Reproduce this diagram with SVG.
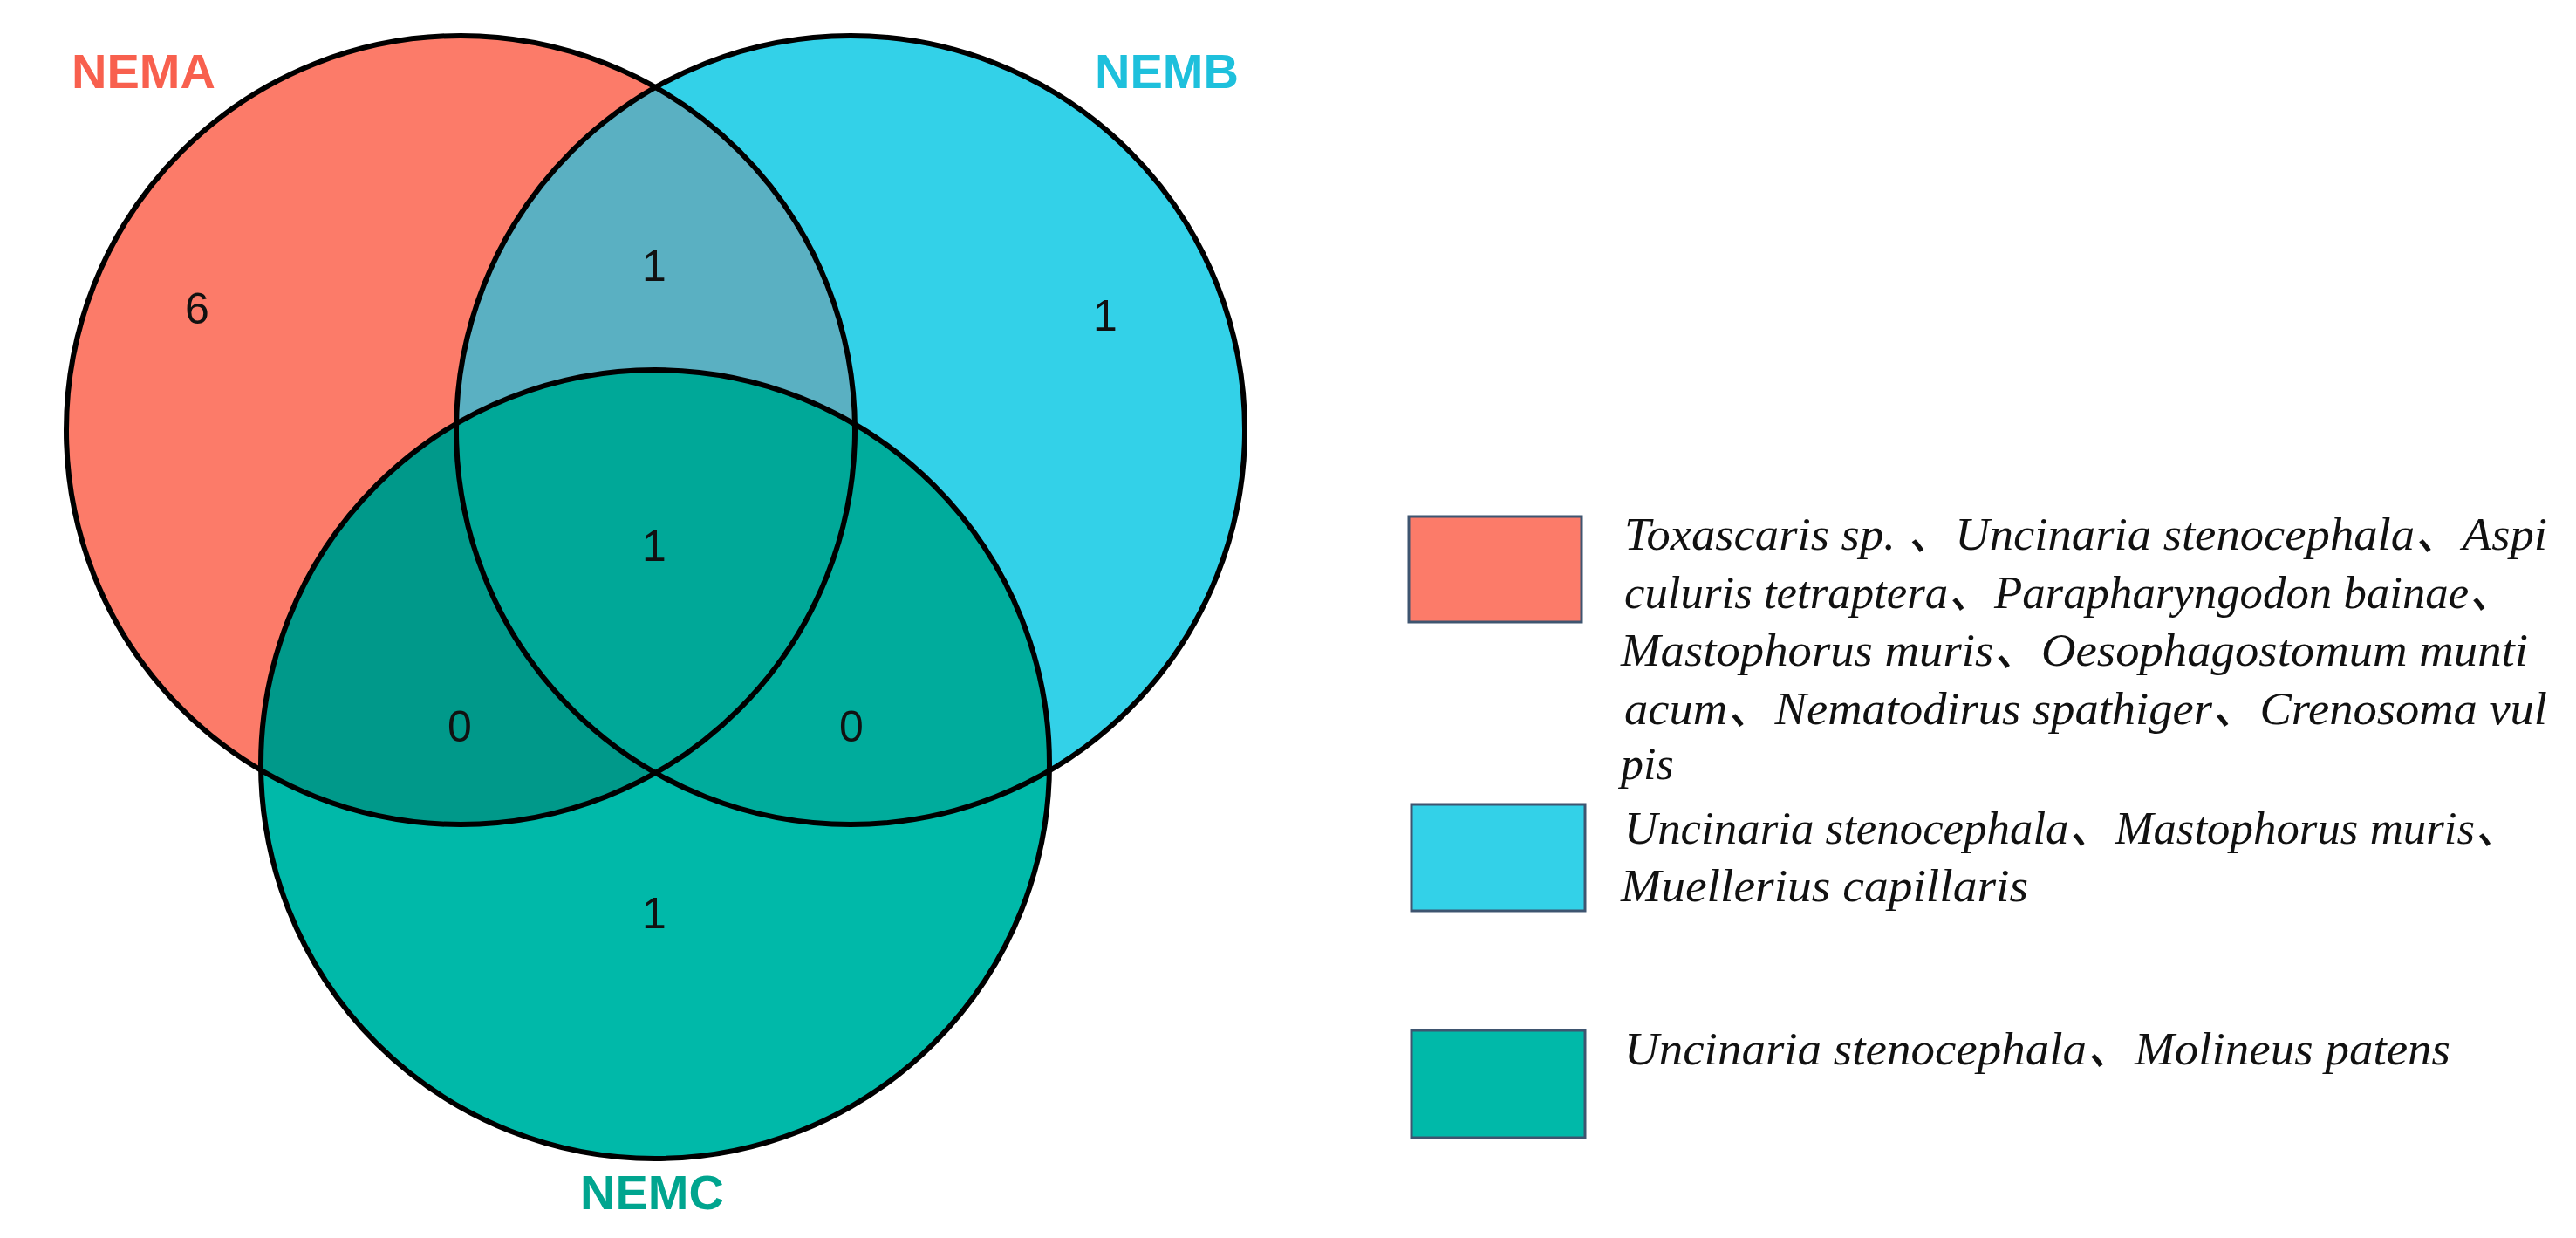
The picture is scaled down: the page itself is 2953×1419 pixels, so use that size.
<svg xmlns="http://www.w3.org/2000/svg" width="2953" height="1419" viewBox="0 0 2953 1419">
<style>
.num{font-family:"Liberation Sans",Arial,sans-serif;font-size:50px;fill:#111;text-anchor:middle}
.lab{font-family:"Liberation Sans",Arial,sans-serif;font-size:56px;font-weight:bold}
.leg{font-family:"Liberation Serif","Noto Sans CJK SC",serif;font-style:italic;font-size:52px;fill:#111}
.ring{fill:none;stroke:#000;stroke-width:6}
.sw{stroke:#3E5570;stroke-width:3}
</style>
<defs>
<clipPath id="cA"><circle cx="528" cy="493" r="452"/></clipPath>
<clipPath id="cB"><circle cx="975" cy="493" r="452"/></clipPath>
<clipPath id="cC"><circle cx="751" cy="876" r="452"/></clipPath>
</defs>
<rect width="2953" height="1419" fill="#fff"/>
<g id="regions">
<circle cx="528" cy="493" r="452" fill="#FC7B69"/>
<circle cx="975" cy="493" r="452" fill="#33D1E8"/>
<circle cx="751" cy="876" r="452" fill="#00B9A9"/>
<g clip-path="url(#cA)"><circle cx="975" cy="493" r="452" fill="#5AB0C2"/><circle cx="751" cy="876" r="452" fill="#00998A"/></g>
<g clip-path="url(#cB)"><circle cx="751" cy="876" r="452" fill="#00AC9C"/></g>
<g clip-path="url(#cA)"><g clip-path="url(#cB)"><circle cx="751" cy="876" r="452" fill="#00A898"/></g></g>
</g>
<g id="outlines">
<circle class="ring" cx="528" cy="493" r="452"/>
<circle class="ring" cx="975" cy="493" r="452"/>
<circle class="ring" cx="751" cy="876" r="452"/>
</g>
<g id="counts">
<text class="num" x="226" y="371">6</text>
<text class="num" x="750" y="322">1</text>
<text class="num" x="1267" y="379">1</text>
<text class="num" x="750" y="643">1</text>
<text class="num" x="527" y="850">0</text>
<text class="num" x="976" y="850">0</text>
<text class="num" x="750" y="1064">1</text>
</g>
<g id="labels">
<text class="lab" x="82" y="101" fill="#F8604E">NEMA</text>
<text class="lab" x="1255" y="101" fill="#1EC0DC">NEMB</text>
<text class="lab" x="665" y="1386" fill="#00A58F">NEMC</text>
</g>
<g id="legend-a">
<rect class="sw" x="1615" y="592" width="198" height="121" fill="#FC7B69"/>
<text class="leg" x="1862" y="630" textLength="1058" lengthAdjust="spacingAndGlyphs">Toxascaris sp. 、Uncinaria stenocephala、Aspi</text>
<text class="leg" x="1862" y="697" textLength="1021" lengthAdjust="spacingAndGlyphs">culuris tetraptera、Parapharyngodon bainae、</text>
<text class="leg" x="1858" y="763" textLength="1040" lengthAdjust="spacingAndGlyphs">Mastophorus muris、Oesophagostomum munti</text>
<text class="leg" x="1862" y="830" textLength="1058" lengthAdjust="spacingAndGlyphs">acum、Nematodirus spathiger、Crenosoma vul</text>
<text class="leg" x="1858" y="893">pis</text>
</g>
<g id="legend-b">
<rect class="sw" x="1618" y="922" width="199" height="122" fill="#33D1E8"/>
<text class="leg" x="1862" y="967" textLength="1028" lengthAdjust="spacingAndGlyphs">Uncinaria stenocephala、Mastophorus muris、</text>
<text class="leg" x="1858" y="1033" textLength="467" lengthAdjust="spacingAndGlyphs">Muellerius capillaris</text>
</g>
<g id="legend-c">
<rect class="sw" x="1618" y="1181" width="199" height="123" fill="#00B9A9"/>
<text class="leg" x="1862" y="1220" textLength="947" lengthAdjust="spacingAndGlyphs">Uncinaria stenocephala、Molineus patens</text>
</g>
</svg>
